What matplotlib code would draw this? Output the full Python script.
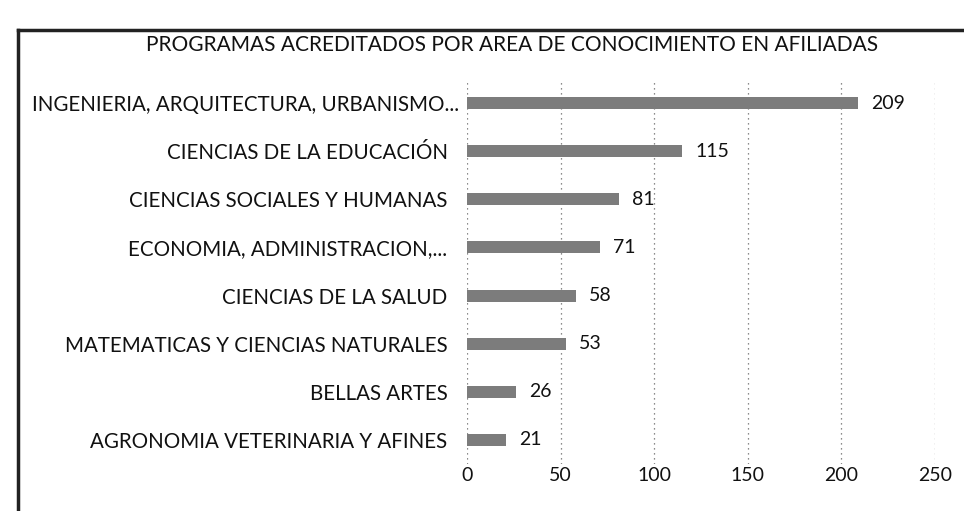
import matplotlib
matplotlib.use("Agg")
import matplotlib.pyplot as plt
from matplotlib.lines import Line2D
import matplotlib.transforms as mtransforms

categories = [
    "INGENIERIA, ARQUITECTURA, URBANISMO...",
    "CIENCIAS DE LA EDUCACIÓN",
    "CIENCIAS SOCIALES Y HUMANAS",
    "ECONOMIA, ADMINISTRACION,...",
    "CIENCIAS DE LA SALUD",
    "MATEMATICAS Y CIENCIAS NATURALES",
    "BELLAS ARTES",
    "AGRONOMIA VETERINARIA Y AFINES",
]
values = [209, 115, 81, 71, 58, 53, 26, 21]
xticks = [0, 50, 100, 150, 200, 250]
title = "PROGRAMAS ACREDITADOS POR AREA DE CONOCIMIENTO EN AFILIADAS"

plt.rcParams['font.family'] = ['Lato', 'DejaVu Sans']

fig = plt.figure(figsize=(9.64, 5.11), dpi=100)
ax = fig.add_axes([467/964, 1-464/511, (935-467)/964, 385/511])

ypos = list(range(len(categories)))
ax.barh(ypos, values, height=0.25, color='#7c7c7c', zorder=3)
for y, v in zip(ypos, values):
    ax.text(v + 7, y, str(v), va='center', ha='left', fontsize=14, color='#111111')

ax.set_xlim(0, 250)
ax.set_ylim(len(categories) - 0.5, -0.5)
ax.set_yticks(ypos)
ax.set_yticklabels(categories, fontsize=14.8, color='#111111')
ax.set_xticks(xticks)
ax.set_xticklabels([str(t) for t in xticks], fontsize=14, color='#111111')
ax.tick_params(length=0)
ax.tick_params(axis='y', pad=14)
ax.tick_params(axis='x', pad=2)
for s in ax.spines.values():
    s.set_visible(False)
ax.grid(axis='x', linestyle=(0, (1, 3)), color='#666666', linewidth=0.9, zorder=0)

# first (longest) label sits closer to the bar in the reference
lbl0 = ax.get_yticklabels()[0]
lbl0.set_transform(lbl0.get_transform() + mtransforms.ScaledTranslation(12/100, 0, fig.dpi_scale_trans))

fig.text(512/964, 1-45/511, title, ha='center', va='center', fontsize=15, color='#111111')

fig.add_artist(Line2D([18/964, 18/964], [0, 1-30/511], color='#222222', linewidth=2.5))
fig.add_artist(Line2D([18/964, 1], [1-30/511, 1-30/511], color='#222222', linewidth=2.5))

fig.savefig("out.png", dpi=100)
